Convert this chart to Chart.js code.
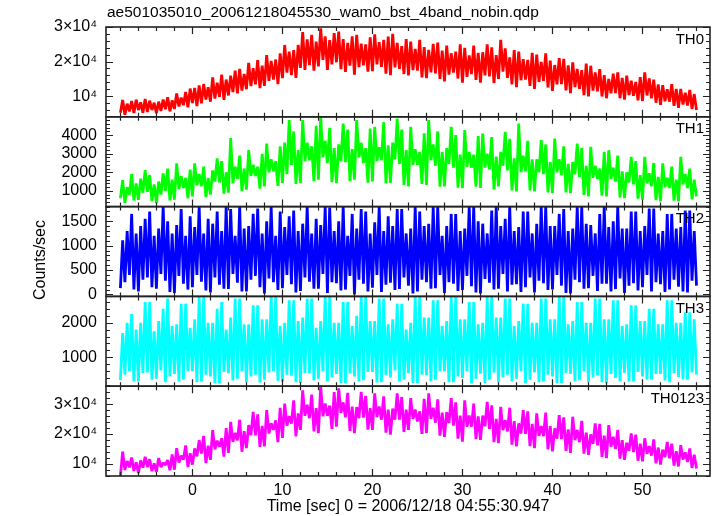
<!DOCTYPE html>
<html>
<head>
<meta charset="utf-8">
<script src="https://cdn.jsdelivr.net/npm/chart.js@4.4.1/dist/chart.umd.min.js"></script>
<style>
  html, body { margin: 0; padding: 0; background: #fff; }
</style>
</head>
<body>
<canvas id="myChart" width="717" height="516"></canvas>
<script>
// time of each sample (sec), 0.25 s apart
var times = [
  -8, -7.75, -7.5, -7.25, -7, -6.75, -6.5, -6.25, -6, -5.75, -5.5, -5.25, -5, -4.75, -4.5, -4.25,
  -4, -3.75, -3.5, -3.25, -3, -2.75, -2.5, -2.25, -2, -1.75, -1.5, -1.25, -1, -0.75, -0.5, -0.25,
  0, 0.25, 0.5, 0.75, 1, 1.25, 1.5, 1.75, 2, 2.25, 2.5, 2.75, 3, 3.25, 3.5, 3.75,
  4, 4.25, 4.5, 4.75, 5, 5.25, 5.5, 5.75, 6, 6.25, 6.5, 6.75, 7, 7.25, 7.5, 7.75,
  8, 8.25, 8.5, 8.75, 9, 9.25, 9.5, 9.75, 10, 10.25, 10.5, 10.75, 11, 11.25, 11.5, 11.75,
  12, 12.25, 12.5, 12.75, 13, 13.25, 13.5, 13.75, 14, 14.25, 14.5, 14.75, 15, 15.25, 15.5, 15.75,
  16, 16.25, 16.5, 16.75, 17, 17.25, 17.5, 17.75, 18, 18.25, 18.5, 18.75, 19, 19.25, 19.5, 19.75,
  20, 20.25, 20.5, 20.75, 21, 21.25, 21.5, 21.75, 22, 22.25, 22.5, 22.75, 23, 23.25, 23.5, 23.75,
  24, 24.25, 24.5, 24.75, 25, 25.25, 25.5, 25.75, 26, 26.25, 26.5, 26.75, 27, 27.25, 27.5, 27.75,
  28, 28.25, 28.5, 28.75, 29, 29.25, 29.5, 29.75, 30, 30.25, 30.5, 30.75, 31, 31.25, 31.5, 31.75,
  32, 32.25, 32.5, 32.75, 33, 33.25, 33.5, 33.75, 34, 34.25, 34.5, 34.75, 35, 35.25, 35.5, 35.75,
  36, 36.25, 36.5, 36.75, 37, 37.25, 37.5, 37.75, 38, 38.25, 38.5, 38.75, 39, 39.25, 39.5, 39.75,
  40, 40.25, 40.5, 40.75, 41, 41.25, 41.5, 41.75, 42, 42.25, 42.5, 42.75, 43, 43.25, 43.5, 43.75,
  44, 44.25, 44.5, 44.75, 45, 45.25, 45.5, 45.75, 46, 46.25, 46.5, 46.75, 47, 47.25, 47.5, 47.75,
  48, 48.25, 48.5, 48.75, 49, 49.25, 49.5, 49.75, 50, 50.25, 50.5, 50.75, 51, 51.25, 51.5, 51.75,
  52, 52.25, 52.5, 52.75, 53, 53.25, 53.5, 53.75, 54, 54.25, 54.5, 54.75, 55, 55.25, 55.5, 55.75,
  56];

// count rates (counts/sec)
var th0 = [
  5200, 8900, 4600, 7800, 5600, 8600, 5100, 9000, 6000, 8200, 5200, 9200, 5400, 8700, 6000, 8100,
  5100, 8400, 5700, 9000, 6200, 9700, 5600, 8800, 6300, 10800, 7000, 9600, 7400, 11200, 6800, 12200,
  8000, 12400, 7100, 13100, 7900, 13500, 9000, 12600, 8400, 15400, 9300, 13900, 9800, 16200, 8900, 14800,
  10200, 15900, 11200, 17400, 10800, 17900, 11600, 16400, 12000, 19600, 12900, 18100, 13400, 20400, 12300, 18800,
  13000, 21900, 14400, 20200, 14800, 20600, 13500, 22400, 15200, 24800, 16800, 22900, 16100, 23300, 15300, 24800,
  18200, 28500, 17600, 26400, 19000, 27700, 17400, 25800, 18600, 29600, 20500, 27300, 17600, 26200, 19200, 28200,
  19800, 28700, 17800, 26500, 17000, 25400, 18800, 27300, 16200, 27700, 18400, 25200, 18900, 25000, 17100, 27000,
  17200, 27900, 19200, 25600, 18500, 26300, 16500, 27200, 16100, 28000, 18300, 25400, 17900, 24500, 16400, 26500,
  16000, 25800, 17500, 23700, 17400, 26300, 15400, 24200, 15200, 23400, 16900, 25100, 16600, 25500, 15000, 23200,
  14300, 24600, 16200, 22400, 16800, 22900, 15100, 25000, 13900, 24000, 15600, 21800, 16400, 24600, 14700, 22500,
  13900, 22700, 16000, 25000, 15700, 24100, 13800, 21900, 15000, 26300, 17100, 23800, 15300, 21200, 13400, 23300,
  12600, 22900, 14600, 20700, 14800, 20500, 13000, 22500, 12100, 22000, 14100, 19900, 14400, 22400, 12500, 20300,
  11500, 19000, 13400, 21000, 13500, 20800, 11700, 18900, 10900, 19800, 12600, 17900, 12100, 17500, 10300, 19400,
  9900, 18800, 11600, 16900, 11400, 17800, 9900, 16100, 9400, 15000, 10800, 16500, 10900, 16900, 9400, 15300,
  9000, 15900, 10300, 14500, 10100, 14100, 8800, 15500, 8600, 16900, 10200, 15100, 9400, 14800, 8100, 13400,
  7500, 13200, 8500, 12000, 8400, 13500, 7200, 12100, 6600, 12100, 7600, 11000, 7300, 11800, 6300, 10600,
  6000];

var th1 = [
  600, 1580, 350, 1200, 800, 1900, 480, 1400, 520, 1650, 900, 2120, 950, 1850, 450, 1350,
  340, 1500, 800, 1940, 1000, 2200, 480, 1600, 520, 2480, 1100, 1800, 1150, 1700, 600, 2150,
  700, 2480, 1300, 1900, 1250, 2300, 660, 1700, 800, 2100, 1500, 2750, 1450, 2600, 850, 2000,
  900, 3840, 1400, 2300, 1650, 2900, 980, 2200, 1060, 3190, 1800, 2400, 1800, 2300, 1120, 3000,
  1240, 3550, 2000, 2700, 2050, 2600, 1270, 3400, 1420, 3600, 1900, 4810, 2400, 4200, 1370, 3200,
  1420, 4810, 2600, 3600, 2650, 3400, 1520, 4500, 1600, 4990, 2800, 3700, 2500, 4400, 1470, 3300,
  1420, 3500, 2600, 4630, 2550, 4300, 1520, 3250, 1600, 4810, 2800, 3600, 2500, 3300, 1440, 4350,
  1510, 4450, 2600, 3350, 2650, 4700, 1400, 3450, 1420, 3600, 2700, 4900, 2450, 4300, 1320, 3200,
  1240, 4450, 2400, 3250, 2400, 3100, 1370, 4100, 1320, 4810, 2650, 3500, 2350, 4200, 1220, 3100,
  1240, 3300, 2450, 4450, 2250, 4000, 1170, 2950, 1150, 4270, 2300, 3100, 2250, 2950, 1220, 3950,
  1150, 4090, 2250, 3000, 2150, 3900, 1070, 2850, 1240, 3100, 2350, 4180, 2100, 3800, 1020, 2750,
  970, 4630, 2000, 2900, 2050, 3700, 1020, 2700, 970, 2700, 2000, 3730, 1900, 3500, 920, 2550,
  880, 3820, 2000, 2700, 1850, 3400, 920, 2450, 880, 2550, 1900, 3550, 1750, 3300, 780, 2350,
  700, 3370, 1700, 2350, 1650, 2200, 740, 3100, 700, 3190, 1650, 2250, 1500, 2900, 640, 2050,
  610, 2000, 1450, 2830, 1350, 2600, 580, 1850, 520, 2830, 1400, 1950, 1250, 2500, 500, 1750,
  430, 2480, 1200, 1700, 1150, 2300, 470, 1600, 430, 2830, 1350, 1900, 1150, 2200, 540, 1600,
  700];

var th2 = [
  130, 1110, 250, 1300, 400, 1650, 100, 1250, 60, 1400, 300, 1550, 350, 1700, 150, 1200,
  120, 1350, 420, 1800, 280, 1500, 50, 1250, 30, 1420, 380, 1750, 220, 1200, 100, 1600,
  150, 1380, 400, 1800, 260, 1250, 80, 1550, 40, 1450, 350, 1700, 200, 1300, 120, 1800,
  110, 1750, 420, 1200, 240, 1800, 60, 1350, 60, 1400, 300, 1650, 380, 1760, 150, 1250,
  20, 1500, 330, 1800, 250, 1200, 90, 1700, 130, 1380, 400, 1600, 210, 1720, 40, 1300,
  70, 1450, 350, 1800, 260, 1250, 120, 1550, 120, 1420, 420, 1800, 30, 1780, 250, 1300,
  230, 1500, 80, 1800, 100, 1200, 380, 1650, 0, 1350, 300, 1750, 220, 1700, 60, 1250,
  140, 1480, 400, 1800, 50, 1300, 200, 1600, 240, 1400, 90, 1750, 110, 1750, 350, 1250,
  180, 1350, 20, 1800, 60, 1700, 300, 1400, 250, 1450, 120, 1800, 130, 1800, 400, 1200,
  30, 1400, 250, 1650, 220, 1650, 70, 1300, 90, 1350, 380, 1800, 170, 1800, 40, 1500,
  20, 1450, 320, 1250, 240, 1720, 100, 1800, 120, 1400, 420, 1550, 60, 1800, 200, 1300,
  210, 1380, 50, 1700, 150, 1700, 350, 1250, 40, 1450, 280, 1800, 230, 1800, 90, 1400,
  100, 1400, 400, 1650, 180, 1750, 30, 1300, 20, 1350, 300, 1800, 250, 1800, 120, 1450,
  130, 1420, 380, 1250, 70, 1650, 220, 1800, 220, 1380, 60, 1500, 110, 1800, 330, 1350,
  30, 1350, 180, 1700, 230, 1700, 80, 1300, 150, 1400, 400, 1760, 60, 1760, 250, 1250,
  210, 1300, 50, 1650, 100, 1650, 300, 1350, 160, 1380, 60, 1720, 40, 1720, 280, 1300,
  180];

var th3 = [
  345, 1700, 500, 2000, 600, 2250, 300, 1800, 300, 2000, 550, 2600, 560, 2600, 350, 1750,
  380, 2050, 620, 2400, 280, 2700, 450, 1900, 520, 1950, 300, 2550, 350, 2550, 600, 1850,
  600, 2100, 280, 2750, 300, 2750, 500, 2000, 450, 2000, 250, 2400, 250, 2600, 580, 1800,
  540, 2150, 330, 2700, 380, 2700, 600, 1950, 280, 1950, 450, 2500, 500, 2500, 270, 2100,
  350, 2100, 560, 2750, 600, 2750, 320, 1900, 300, 2000, 500, 2650, 470, 2650, 280, 2050,
  260, 2150, 550, 2700, 550, 2700, 330, 1850, 380, 2050, 600, 2750, 300, 2750, 420, 2000,
  520, 2000, 260, 2600, 250, 2600, 540, 1900, 450, 2200, 300, 2750, 340, 2750, 580, 2050,
  580, 2050, 270, 2700, 280, 2700, 480, 1950, 420, 2100, 620, 2550, 300, 2550, 350, 1800,
  550, 2000, 260, 2750, 260, 2750, 500, 2150, 480, 2150, 300, 2650, 350, 2650, 600, 1900,
  600, 2050, 280, 2750, 280, 2750, 450, 2100, 400, 2100, 600, 2600, 250, 2600, 380, 1950,
  530, 2000, 260, 2750, 350, 2750, 560, 2150, 280, 2150, 420, 2700, 500, 2700, 300, 1900,
  380, 2050, 600, 2550, 250, 2550, 350, 2000, 560, 2000, 280, 2700, 300, 2700, 500, 2100,
  450, 2100, 260, 2750, 260, 2750, 550, 1950, 520, 2050, 300, 2600, 340, 2600, 600, 2000,
  280, 2000, 420, 2700, 480, 2700, 280, 2100, 250, 2100, 520, 2650, 400, 2650, 320, 1900,
  550, 1950, 300, 2500, 300, 2500, 580, 2050, 450, 2050, 350, 2400, 350, 2400, 520, 1950,
  520, 1950, 330, 2650, 280, 2650, 550, 2000, 430, 2000, 360, 2300, 350, 2300, 560, 2100,
  500];

var th0123 = [
  6000, 14100, 8000, 11000, 8900, 12200, 7700, 10600, 7000, 11200, 8800, 12400, 9000, 11600, 7600, 10200,
  7400, 12000, 9000, 10400, 9700, 11300, 7900, 13200, 8100, 15300, 10500, 12800, 11500, 16200, 9000, 13600,
  9800, 15200, 12600, 18000, 13500, 19400, 10300, 16100, 11400, 21300, 14900, 17800, 15800, 18600, 12500, 22000,
  13700, 24100, 17400, 20400, 17900, 24800, 14100, 21000, 15300, 23000, 19600, 27400, 19600, 26600, 15700, 22700,
  15900, 28000, 20200, 23600, 21400, 24600, 17300, 28800, 18700, 30200, 22800, 26000, 23500, 31300, 19200, 26900,
  21400, 34600, 26100, 29800, 25300, 33200, 20900, 28700, 20300, 36000, 26000, 30200, 26100, 29500, 21700, 34000,
  22500, 35300, 27100, 30600, 25600, 33800, 21100, 29200, 20300, 29000, 25300, 34100, 25500, 32800, 21500, 28700,
  21400, 33600, 25700, 29200, 24800, 32600, 20500, 28200, 19800, 28500, 24800, 33600, 24800, 32400, 20700, 28200,
  21400, 32000, 25100, 28200, 24200, 27600, 20100, 31800, 20400, 33600, 25100, 28800, 23800, 31600, 19500, 27200,
  19100, 27300, 23700, 32000, 22800, 30600, 18500, 26200, 17500, 31300, 22500, 26200, 22500, 30200, 18300, 25900,
  18100, 26200, 22600, 30800, 21700, 29600, 17300, 25100, 17000, 29100, 21300, 24700, 20900, 28800, 16500, 24300,
  15900, 23600, 20200, 28000, 20100, 27600, 16000, 23400, 15300, 26900, 19400, 22700, 19300, 27200, 14900, 22700,
  14200, 21900, 18500, 26300, 18300, 25600, 14400, 21600, 13700, 25800, 18000, 21400, 17300, 24400, 13500, 20500,
  13100, 19900, 16700, 23600, 16200, 23400, 12400, 19500, 12000, 23000, 15800, 19100, 15100, 21400, 11800, 18000,
  11400, 17100, 14400, 20200, 14000, 19800, 11100, 16800, 10900, 18600, 13400, 16000, 12800, 18200, 10200, 15500,
  9800, 14800, 12300, 17400, 11900, 16800, 9500, 14300, 9200, 16300, 11500, 13900, 10700, 15200, 8700, 13100,
  8500];

var panelNames = ['TH0', 'TH1', 'TH2', 'TH3', 'TH0123'];
var panelColors = ['#ff0000', '#00ff00', '#0000ff', '#00ffff', '#ff00ff'];
var panelValues = [th0, th1, th2, th3, th0123];
var panelMin = [4030, 150, -40, 165, 6000];
var panelMax = [30000, 4990, 1800, 2760, 36000];

// tick labels
var yTickValues = [[10000, 20000, 30000], [1000, 2000, 3000, 4000], [0, 500, 1000, 1500], [1000, 2000], [10000, 20000, 30000]];
var yTickLabels = [['10⁴', '2×10⁴', '3×10⁴'], ['1000', '2000', '3000', '4000'], ['0', '500', '1000', '1500'], ['1000', '2000'], ['10⁴', '2×10⁴', '3×10⁴']];
var yMinorStep = [2000, 200, 100, 200, 2000];
var yMajorStep = [10000, 1000, 500, 1000, 10000];
var xTickValues = [0, 10, 20, 30, 40, 50];
var xTickLabels = ['0', '10', '20', '30', '40', '50'];

var plotTitle = 'ae501035010_20061218045530_wam0_bst_4band_nobin.qdp';
var xTitle = 'Time [sec] 0 = 2006/12/18 04:55:30.947';
var yTitle = 'Counts/sec';

var FONT = '"Liberation Sans", Arial, Helvetica, sans-serif';

document.addEventListener('DOMContentLoaded', function() {
    var datasets = [];
    var scales = {};

    panelNames.forEach(function(name, i) {
        var id = 'y' + i;
        datasets.push({
            label: name,
            yAxisID: id,
            data: times.map(function(t, k) { return {x: t, y: panelValues[i][k]}; }),
            borderColor: panelColors[i],
            borderWidth: 2.8,
            borderJoinStyle: 'bevel',
            borderCapStyle: 'butt',
            pointRadius: 0,
            fill: false
        });
        scales[id] = {
            type: 'linear',
            position: 'left',
            stack: 'panels',
            stackWeight: 1,
            weight: 10 - i,
            min: panelMin[i],
            max: panelMax[i],
            grid: { display: false, drawTicks: false },
            border: { display: false },
            ticks: {
                color: '#000',
                padding: 9,
                autoSkip: false,
                font: { family: FONT, size: 16 },
                callback: function(value) {
                    var k = yTickValues[i].indexOf(value);
                    return k >= 0 ? yTickLabels[i][k] : '';
                }
            },
            afterBuildTicks: function(scale) {
                scale.ticks = yTickValues[i].map(function(v) { return {value: v}; });
            },
            afterFit: function(scale) { scale.width = 106; }
        };
    });

    scales.x = {
        type: 'linear',
        position: 'bottom',
        min: -9.6,
        max: 57.5,
        grid: { display: false, drawTicks: false },
        border: { display: false },
        ticks: {
            color: '#000',
            padding: 5,
            maxRotation: 0,
            autoSkip: false,
            font: { family: FONT, size: 16 },
            callback: function(value) {
                var k = xTickValues.indexOf(value);
                return k >= 0 ? xTickLabels[k] : '';
            }
        },
        afterBuildTicks: function(scale) {
            scale.ticks = xTickValues.map(function(v) { return {value: v}; });
        },
        title: {
            display: true,
            text: xTitle,
            color: '#000',
            font: { family: FONT, size: 16 },
            padding: { top: 0, bottom: 0 }
        },
        afterFit: function(scale) { scale.height = 40; }
    };

    // frame, inward ticks and panel names, drawn like qdp/PLT does
    var qdpFrame = {
        id: 'qdpFrame',
        afterDraw: function(chart) {
            var ctx = chart.ctx;
            var area = chart.chartArea;
            var xs = chart.scales.x;
            ctx.save();

            ctx.fillStyle = '#000';
            ctx.font = '15.5px ' + FONT;
            ctx.textAlign = 'left';
            ctx.textBaseline = 'middle';
            ctx.fillText(plotTitle, area.left + 1, 13);

            ctx.save();
            ctx.font = '16px ' + FONT;
            ctx.translate(41, 260);
            ctx.rotate(-Math.PI / 2);
            ctx.textAlign = 'center';
            ctx.fillText(yTitle, 0, 0);
            ctx.restore();

            ctx.strokeStyle = '#222';
            panelNames.forEach(function(name, i) {
                var ys = chart.scales['y' + i];
                var top = ys.top, bottom = ys.bottom;

                ctx.lineWidth = 1.2;
                ctx.beginPath();
                for (var t = -8; t <= 56; t += 2) {
                    var px = Math.round(xs.getPixelForValue(t)) + 0.5;
                    var len = (t % 10 === 0) ? 7 : 4;
                    ctx.moveTo(px, top); ctx.lineTo(px, top + len);
                    ctx.moveTo(px, bottom); ctx.lineTo(px, bottom - len);
                }
                var v0 = Math.ceil(panelMin[i] / yMinorStep[i]) * yMinorStep[i];
                for (var v = v0; v <= panelMax[i]; v += yMinorStep[i]) {
                    var py = Math.round(ys.getPixelForValue(v)) + 0.5;
                    var l2 = (v % yMajorStep[i] === 0) ? 7 : 4;
                    ctx.moveTo(area.left, py); ctx.lineTo(area.left + l2, py);
                    ctx.moveTo(area.right, py); ctx.lineTo(area.right - l2, py);
                }
                ctx.stroke();

                ctx.lineWidth = 1.6;
                ctx.strokeRect(area.left, top, area.right - area.left, bottom - top);

                ctx.fillStyle = '#000';
                ctx.font = '15px ' + FONT;
                ctx.textAlign = 'right';
                ctx.textBaseline = 'middle';
                ctx.fillText(name, area.right - 6, top + 12.5);
            });
            ctx.restore();
        }
    };

    var ctx = document.getElementById('myChart').getContext('2d');
    var myChart = new Chart(ctx, {
        type: 'line',
        data: { datasets: datasets },
        options: {
            responsive: false,
            animation: false,
            layout: { padding: { top: 27, right: 7, left: 0, bottom: 0 } },
            elements: { line: { tension: 0 } },
            plugins: {
                legend: { display: false },
                tooltip: { enabled: false }
            },
            scales: scales
        },
        plugins: [qdpFrame]
    });
});
</script>
</body>
</html>
